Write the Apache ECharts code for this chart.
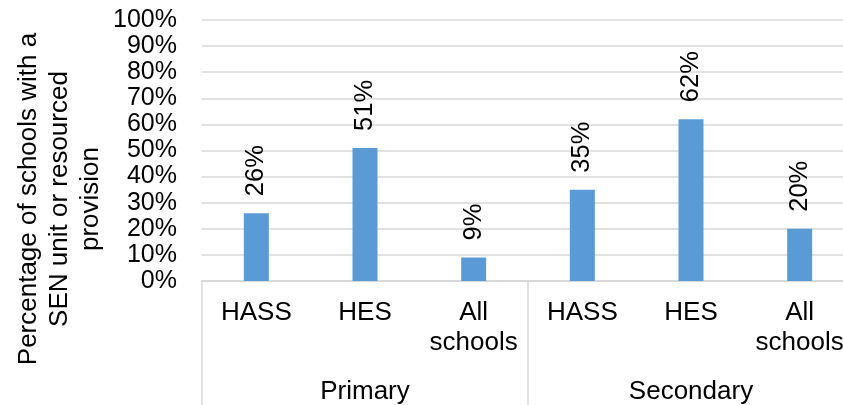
<!DOCTYPE html>
<html>
<head>
<meta charset="utf-8">
<script src="https://cdn.jsdelivr.net/npm/echarts@6/dist/echarts.min.js"></script>
<style>
  html, body { margin: 0; padding: 0; background: #fff; }
  #chart { width: 843px; height: 405px; }
</style>
</head>
<body>
<div id="chart"></div>
<script>
// School types within each phase
const schoolTypes = ['HASS', 'HES', 'All\nschools', 'HASS', 'HES', 'All\nschools'];
// Phase groups shown on the outer category row
const phases = ['Primary', 'Secondary'];
// Percentage of schools with a SEN unit or resourced provision
const senShare = [26, 51, 9, 35, 62, 20];
// Value axis range
const yMin = 0;
const yMax = 100;
const yStep = 10;
const yTitle = 'Percentage of schools with a\nSEN unit or resourced\nprovision';

const FONT = '"Liberation Sans", Arial, sans-serif';
const GRID_COLOR = '#d9d9d9';
const TEXT_COLOR = '#000000';

const chart = echarts.init(document.getElementById('chart'), null, { renderer: 'canvas' });

chart.setOption({
  animation: false,
  backgroundColor: '#ffffff',
  textStyle: { fontFamily: FONT },
  grid: {
    left: 202, top: 20, width: 652, height: 261,
    containLabel: false,
    outerBoundsMode: 'none'
  },
  graphic: [{
    type: 'text',
    x: 60,
    y: 199,
    rotation: Math.PI / 2,
    style: {
      text: yTitle,
      font: '26px ' + FONT,
      fill: TEXT_COLOR,
      align: 'center',
      verticalAlign: 'middle',
      lineHeight: 31
    }
  }],
  xAxis: [{
    type: 'category',
    data: schoolTypes,
    position: 'bottom',
    axisLine: { show: true, lineStyle: { color: GRID_COLOR, width: 1.5 } },
    axisTick: { show: false },
    axisLabel: {
      interval: 0,
      color: TEXT_COLOR,
      fontSize: 26,
      fontFamily: FONT,
      lineHeight: 30,
      margin: 17
    }
  }, {
    type: 'category',
    data: phases,
    position: 'bottom',
    axisLine: { show: true, lineStyle: { color: GRID_COLOR, width: 1.5 } },
    axisTick: { show: true, interval: 0, length: 125, lineStyle: { color: GRID_COLOR, width: 1.5 } },
    axisLabel: {
      interval: 0,
      color: TEXT_COLOR,
      fontSize: 26,
      fontFamily: FONT,
      lineHeight: 30,
      margin: 96
    }
  }],
  yAxis: {
    type: 'value',
    min: yMin,
    max: yMax,
    interval: yStep,
    axisLine: { show: false },
    axisTick: { show: false },
    splitLine: { show: true, lineStyle: { color: GRID_COLOR, width: 1.5 } },
    axisLabel: {
      formatter: '{value}%',
      color: TEXT_COLOR,
      fontSize: 25,
      fontFamily: FONT,
      margin: 25
    }
  },
  series: [{
    type: 'bar',
    xAxisIndex: 0,
    data: senShare,
    barWidth: 25,
    itemStyle: { color: '#5b9bd5' },
    label: {
      show: true,
      position: 'top',
      rotate: 90,
      align: 'left',
      verticalAlign: 'middle',
      distance: 17,
      formatter: '{c}%',
      color: TEXT_COLOR,
      fontSize: 25.5,
      fontFamily: FONT
    }
  }]
});
</script>
</body>
</html>
